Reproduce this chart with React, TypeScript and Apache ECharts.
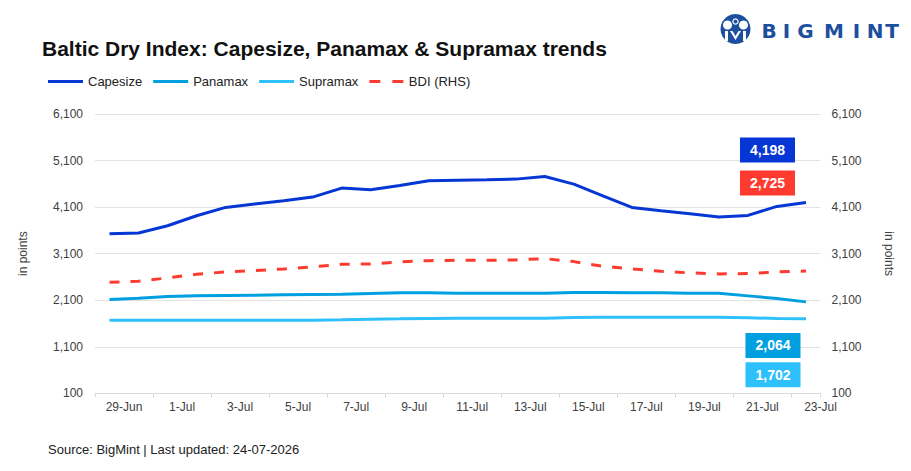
import React, { useEffect, useRef } from "react";
import * as echarts from "echarts";

const dates: string[] = [
  "29-Jun", "30-Jun", "1-Jul", "2-Jul", "3-Jul", "4-Jul", "5-Jul", "6-Jul", "7-Jul",
  "8-Jul", "9-Jul", "10-Jul", "11-Jul", "12-Jul", "13-Jul", "14-Jul", "15-Jul",
  "16-Jul", "17-Jul", "18-Jul", "19-Jul", "20-Jul", "21-Jul", "22-Jul", "23-Jul",
];

const capesize: number[] = [
  3530, 3543, 3700, 3914, 4093, 4165, 4236, 4315, 4508, 4472, 4565, 4665, 4679,
  4686, 4701, 4758, 4594, 4343, 4093, 4022, 3958, 3887, 3922, 4115, 4198,
];
const panamax: number[] = [
  2115, 2143, 2179, 2193, 2201, 2208, 2215, 2222, 2229, 2244, 2258, 2258, 2251,
  2251, 2251, 2251, 2265, 2265, 2258, 2258, 2251, 2251, 2193, 2136, 2064,
];
const supramax: number[] = [
  1671, 1671, 1671, 1671, 1671, 1671, 1671, 1671, 1678, 1693, 1700, 1708, 1714,
  1714, 1714, 1714, 1729, 1736, 1736, 1736, 1736, 1736, 1722, 1708, 1702,
];
const bdi: number[] = [
  2486, 2507, 2579, 2657, 2707, 2736, 2772, 2815, 2872, 2879, 2922, 2950, 2957,
  2957, 2965, 2993, 2929, 2829, 2772, 2722, 2686, 2665, 2672, 2707, 2725,
];

const FONT = "'Liberation Sans', Arial, sans-serif";
const logoLetters: string[] = ["B", "I", "G", "M", "I", "N", "T"];
const logoX: number[] = [769, 786.5, 805.5, 834, 856.5, 875, 892];

const fmt = (v: number) => v.toLocaleString("en-US");

function endLabel(color: string, offset: number[]) {
  return {
    show: true,
    formatter: (p: any) => fmt(p.value),
    color: "#ffffff",
    fontWeight: "bold",
    fontSize: 14,
    fontFamily: FONT,
    backgroundColor: color,
    padding: [5, 10, 5, 10],
    lineHeight: 15,
    align: "center",
    verticalAlign: "middle",
    distance: 0,
    offset,
  };
}

export default function App() {
  const ref = useRef<HTMLDivElement>(null);
  useEffect(() => {
    if (!ref.current) return;
    const chart = echarts.init(ref.current, null, { renderer: "svg" });
    const logoColor = "#1d4f9f";
    const option: any = {
      animation: false,
      backgroundColor: "#ffffff",
      textStyle: { fontFamily: FONT },
      title: {
        text: "Baltic Dry Index: Capesize, Panamax & Supramax trends",
        left: 37,
        top: 33,
        textStyle: { fontSize: 21, fontWeight: "bold", color: "#111111", fontFamily: FONT },
      },
      legend: {
        left: 43,
        top: 70,
        itemWidth: 35,
        itemHeight: 3,
        itemGap: 11,
        textStyle: { fontSize: 13, color: "#222222", fontFamily: FONT },
        data: [
          { name: "Capesize", icon: "rect" },
          { name: "Panamax", icon: "rect" },
          { name: "Supramax", icon: "rect" },
          { name: "BDI (RHS)", icon: "path://M0,0h11v3h-11z M23,0h11v3h-11z" },
        ],
      },
      grid: { left: 95, right: 90.5, top: 114, bottom: 77.7, containLabel: false },
      xAxis: {
        type: "category",
        data: dates,
        boundaryGap: true,
        axisLine: { lineStyle: { color: "#d9d9d9", width: 1 } },
        axisTick: { show: true, interval: 1, alignWithLabel: false, length: 4, lineStyle: { color: "#d9d9d9" } },
        axisLabel: {
          interval: 1,
          fontSize: 12,
          color: "#404040",
          margin: 8,
          padding: [0, 0, 0, 29],
          fontFamily: FONT,
        },
        splitLine: { show: false },
      },
      yAxis: [
        {
          type: "value",
          min: 100,
          max: 6100,
          interval: 1000,
          name: "in points",
          nameLocation: "middle",
          nameGap: 66,
          nameRotate: 90,
          nameTextStyle: { fontSize: 12, color: "#404040", fontFamily: FONT },
          axisLine: { show: false },
          axisTick: { show: false },
          axisLabel: { fontSize: 12, color: "#404040", margin: 12, formatter: (v: number) => fmt(v), fontFamily: FONT },
          splitLine: { lineStyle: { color: "#e3e3e3", width: 1 } },
        },
        {
          type: "value",
          min: 100,
          max: 6100,
          interval: 1000,
          position: "right",
          name: "in points",
          nameLocation: "middle",
          nameGap: 62,
          nameRotate: -90,
          nameTextStyle: { fontSize: 12, color: "#404040", fontFamily: FONT },
          axisLine: { show: false },
          axisTick: { show: false },
          axisLabel: { fontSize: 12, color: "#404040", margin: 11, formatter: (v: number) => fmt(v), fontFamily: FONT },
          splitLine: { show: false },
        },
      ],
      series: [
        {
          name: "Capesize",
          type: "line",
          data: capesize,
          yAxisIndex: 0,
          symbol: "none",
          lineStyle: { color: "#0636d4", width: 3 },
          itemStyle: { color: "#0636d4" },
          endLabel: endLabel("#0636d4", [-38.5, -52.5]),
          z: 5,
        },
        {
          name: "Panamax",
          type: "line",
          data: panamax,
          yAxisIndex: 0,
          symbol: "none",
          lineStyle: { color: "#009fe0", width: 3 },
          itemStyle: { color: "#009fe0" },
          endLabel: endLabel("#009fe0", [-33, 43.5]),
          z: 4,
        },
        {
          name: "Supramax",
          type: "line",
          data: supramax,
          yAxisIndex: 0,
          symbol: "none",
          lineStyle: { color: "#2ec0fb", width: 3 },
          itemStyle: { color: "#2ec0fb" },
          endLabel: endLabel("#2ec0fb", [-33, 56]),
          z: 3,
        },
        {
          name: "BDI (RHS)",
          type: "line",
          data: bdi,
          yAxisIndex: 1,
          symbol: "none",
          lineStyle: { color: "#ff3b30", width: 3, type: [10, 11] },
          itemStyle: { color: "#ff3b30" },
          endLabel: endLabel("#ff3b30", [-38.5, -88]),
          z: 4,
        },
      ],
      graphic: [
        {
          type: "text",
          left: 48,
          top: 443,
          style: { text: "Source: BigMint | Last updated: 24-07-2026", fontSize: 13, fill: "#222222", fontFamily: FONT },
        },
        { type: "circle", shape: { cx: 735.5, cy: 29, r: 15 }, style: { fill: logoColor } },
        { type: "circle", shape: { cx: 727.5, cy: 25, r: 4.5 }, style: { fill: "#ffffff" } },
        { type: "circle", shape: { cx: 743.5, cy: 25, r: 4.5 }, style: { fill: "#ffffff" } },
        { type: "circle", shape: { cx: 735.5, cy: 21.5, r: 3.2 }, style: { fill: "#ffffff" } },
        { type: "circle", shape: { cx: 735.5, cy: 21.5, r: 2 }, style: { fill: logoColor } },
        {
          type: "polygon",
          shape: { points: [[730, 31], [735.5, 40], [741, 31], [738.5, 31], [735.5, 36], [732.5, 31]] },
          style: { fill: "#ffffff" },
        },
        { type: "rect", shape: { x: 725, y: 31, width: 3, height: 10 }, style: { fill: "#ffffff" } },
        { type: "rect", shape: { x: 743, y: 31, width: 3, height: 10 }, style: { fill: "#ffffff" } },
        ...logoLetters.map((ch, i) => ({
          type: "text",
          x: logoX[i],
          y: 31,
          style: {
            text: ch,
            fontSize: 20,
            fontWeight: 900,
            fill: logoColor,
            fontFamily: "'DejaVu Sans', sans-serif",
            textAlign: "center",
            textVerticalAlign: "middle",
            verticalAlign: "middle",
            align: "center",
          },
        })),
      ],
    };
    chart.setOption(option);
    return () => chart.dispose();
  }, []);
  return (
    <div
      ref={ref}
      style={{ position: "fixed", left: 0, top: 0, width: 911, height: 471, background: "#fff" }}
    />
  );
}
